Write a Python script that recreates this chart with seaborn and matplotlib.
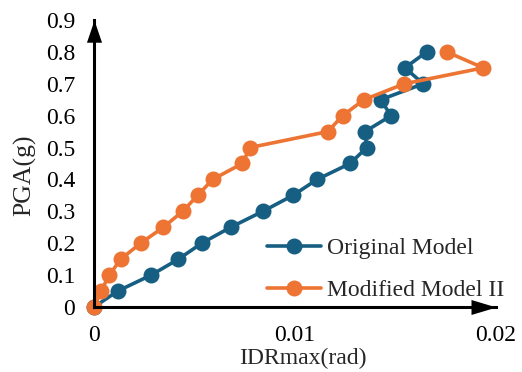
import matplotlib
matplotlib.use("Agg")
import matplotlib.pyplot as plt
from matplotlib.path import Path
from matplotlib.ticker import MultipleLocator, FixedLocator
import seaborn as sns
import pandas as pd

# Peak ground acceleration levels (g)
pga = [0, 0.05, 0.1, 0.15, 0.2, 0.25, 0.3, 0.35, 0.4, 0.45, 0.5, 0.55,
       0.6, 0.65, 0.7, 0.75, 0.8]

# Maximum inter-storey drift ratio (rad) for each model
idr_original = [0, 0.00118, 0.00284, 0.0042, 0.00536, 0.0068, 0.0084,
                0.0099, 0.0111, 0.01274, 0.01357, 0.01348, 0.01478,
                0.01426, 0.01638, 0.01547, 0.01655]
idr_modified = [0, 0.00035, 0.00076, 0.00133, 0.00232, 0.00345, 0.00441,
                0.00516, 0.0059, 0.00738, 0.00776, 0.01163, 0.01237,
                0.01343, 0.01544, 0.01937, 0.01755]

series_names = ["Original Model", "Modified Model II"]
colors = ["#175F82", "#ED7432"]

df = pd.concat([
    pd.DataFrame({"IDR": idr_original, "PGA": pga, "Model": series_names[0]}),
    pd.DataFrame({"IDR": idr_modified, "PGA": pga, "Model": series_names[1]}),
], ignore_index=True)

sns.set_style("white")
plt.rcParams["font.family"] = ["Liberation Serif", "DejaVu Serif"]

W, H = 522, 372
fig = plt.figure(figsize=(W / 100, H / 100), dpi=100)
ax = fig.add_axes([94 / W, (H - 307) / H, (496 - 94) / W, (307 - 20) / H])

sns.lineplot(data=df, x="IDR", y="PGA", hue="Model", palette=colors,
             sort=False, estimator=None, marker="o", markersize=11.5,
             markeredgewidth=0, linewidth=2.6, ax=ax, clip_on=False)

ax.set_xlim(0, 0.02)
ax.set_ylim(0, 0.9)
ax.xaxis.set_major_locator(FixedLocator([0, 0.01, 0.02]))
ax.xaxis.set_minor_locator(MultipleLocator(0.002))
ax.yaxis.set_major_locator(MultipleLocator(0.1))
ax.yaxis.set_minor_locator(MultipleLocator(0.01))
ax.set_xticklabels(["0", "0.01", "0.02"])
ax.set_yticklabels(["0" if abs(v) < 1e-9 else f"{v:.1f}"
                    for v in ax.get_yticks()])

for side in ["top", "right"]:
    ax.spines[side].set_visible(False)
for side in ["left", "bottom"]:
    ax.spines[side].set_linewidth(2.2)
    ax.spines[side].set_color("black")

ax.tick_params(axis="x", which="both", direction="out", length=5, width=2,
               colors="black", labelsize=17, pad=8)
ax.tick_params(axis="y", which="both", direction="out", length=3.5,
               width=1.6, colors="black", labelsize=17, pad=10)

ax.set_xlabel("IDRmax(rad)", fontsize=17)
ax.set_ylabel("PGA(g)", fontsize=18.5)
ax.xaxis.label.set_verticalalignment("center")
ax.xaxis.set_label_coords(0.52, -(358 - 307) / (307 - 20))
ax.yaxis.set_label_coords(-(94 - 25) / (496 - 94), (307 - 175) / (307 - 20))
ax.yaxis.label.set_verticalalignment("center")

# Arrow heads on the axis ends, with the tip at the end point
right_head = Path([(0, 0), (-1, 0.3), (-1, -0.3), (0, 0)],
                  [Path.MOVETO, Path.LINETO, Path.LINETO, Path.CLOSEPOLY])
up_head = Path([(0, 0), (-0.34, -1), (0.34, -1), (0, 0)],
               [Path.MOVETO, Path.LINETO, Path.LINETO, Path.CLOSEPOLY])
ax.plot(1, 0, marker=right_head, color="black", markersize=36,
        transform=ax.transAxes, clip_on=False, zorder=5, markeredgewidth=0)
ax.plot(0, 1, marker=up_head, color="black", markersize=32,
        transform=ax.transAxes, clip_on=False, zorder=5, markeredgewidth=0)

leg = ax.legend(loc="lower left", bbox_to_anchor=(267 / W, (H - 301) / H),
                bbox_transform=fig.transFigure, frameon=False, fontsize=17,
                handlelength=2.3, handletextpad=0.25, labelspacing=0.85,
                borderpad=0, borderaxespad=0)

fig.savefig("out.png", dpi=100)
